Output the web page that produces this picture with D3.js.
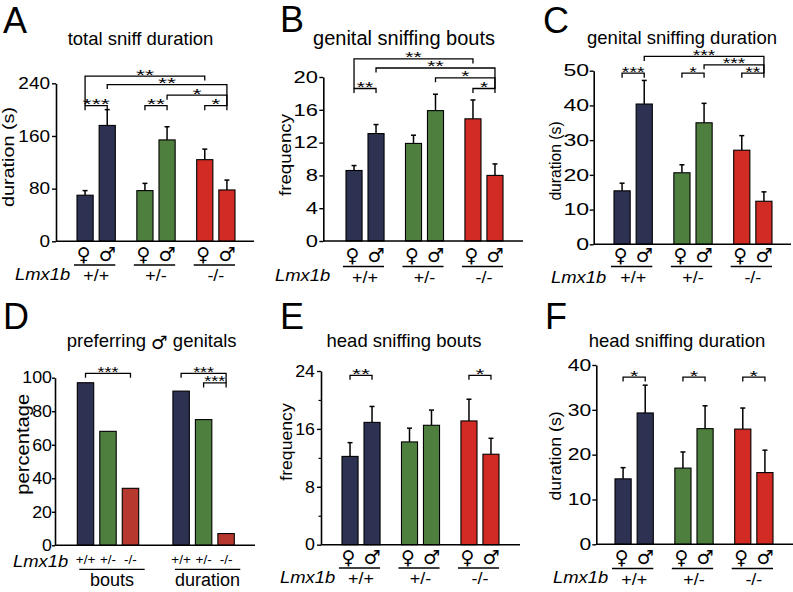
<!DOCTYPE html>
<html><head><meta charset="utf-8">
<script src="https://cdn.jsdelivr.net/npm/d3@7"></script>
<style>html,body{margin:0;padding:0;background:#fff;} svg{display:block;}</style>
</head><body>
<script>
// ---------------- data ----------------
const genotypes = ["+/+", "+/-", "-/-"];
const sexKeys = ["F", "M"];
const sexSymbols = ["\u2640", "\u2642"];
const genotypeColors = ["#2d3152", "#4f7f3f", "#d12b24"];
const preferColors = ["#2d3152", "#4f7f3f", "#b7382f"];

// order of bars: ♀+/+, ♂+/+, ♀+/-, ♂+/-, ♀-/-, ♂-/-
// A: total sniff duration (s)
const totalSniffMean = [70, 176, 77, 154, 124, 78];
const totalSniffSem = [7, 24, 11, 20, 16, 15];
const totalSniffTicks = [0, 80, 160, 240];
const totalSniffSig = [[0,4,251,"**"],[1,5,238,"**"],[3,5,222,"*"],[4,5,206,"*"],[0,1,206,"***"],[2,3,206,"**"]];

// B: genital sniffing bouts (frequency)
const genitalBoutsMean = [8.6, 13.1, 11.9, 15.9, 14.9, 8.0];
const genitalBoutsSem = [0.6, 1.1, 1.0, 2.0, 2.3, 1.4];
const genitalBoutsTicks = [0, 4, 8, 12, 16, 20];
const genitalBoutsSig = [[0,4,22.2,"**"],[1,5,21.1,"**"],[3,5,19.9,"*"],[4,5,18.6,"*"],[0,1,18.6,"**"]];

// C: genital sniffing duration (s)
const genitalDurMean = [15.4, 40.4, 20.6, 35.0, 27.1, 12.4];
const genitalDurSem = [2.2, 6.8, 2.3, 5.6, 4.2, 2.7];
const genitalDurTicks = [0, 10, 20, 30, 40, 50];
const genitalDurSig = [[1,5,54.1,"***"],[3,5,51.7,"***"],[4,5,49.3,"**"],[0,1,49.3,"***"],[2,3,49.3,"*"]];

// D: percentage preferring male genitals
const measures = ["bouts", "duration"];
const preferBouts = [97, 68, 34];
const preferDuration = [92, 75, 7];
const preferTicks = [0, 20, 40, 60, 80, 100];
const preferSigBouts = [[0,2,102.6,"***"]];
const preferSigDuration = [[0,2,102.6,"***"],[1,2,96.9,"***"]];

// E: head sniffing bouts (frequency)
const headBoutsMean = [12.2, 16.9, 14.2, 16.5, 17.1, 12.5];
const headBoutsSem = [1.9, 2.2, 1.9, 2.1, 3.0, 2.2];
const headBoutsTicks = [0, 8, 16, 24];
const headBoutsMinorTicks = [4, 12, 20];
const headBoutsSig = [[0,1,23.4,"**"],[4,5,23.4,"*"]];

// F: head sniffing duration (s)
const headDurMean = [14.6, 29.3, 17.0, 25.8, 25.7, 16.0];
const headDurSem = [2.5, 6.2, 3.6, 5.1, 4.7, 5.0];
const headDurTicks = [0, 10, 20, 30, 40];
const headDurSig = [[0,1,37.3,"*"],[2,3,37.3,"*"],[4,5,37.3,"*"]];

// ---------------- drawing ----------------
const FONT = "'Liberation Sans', Arial, Helvetica, sans-serif";
const SYMF = "'DejaVu Sans', sans-serif";
const svg = d3.select("body").append("svg").attr("width", 793).attr("height", 592);
svg.append("rect").attr("width", 793).attr("height", 592).attr("fill", "#fff");

function txt(parent, x, y, s, o = {}) {
  const t = parent.append("text")
    .attr("transform", `translate(${x},${y})${o.rot ? ` rotate(${o.rot})` : ""} scale(${o.sx || 1},1)`)
    .attr("text-anchor", o.anchor || "middle")
    .attr("font-family", o.family || FONT)
    .attr("font-size", o.size || 16)
    .attr("fill", "#000")
    .text(s);
  if (o.italic) t.attr("font-style", "italic");
  return t;
}

function yAxis(g, y, L, ticks, minor) {
  const ax = d3.axisLeft(y).tickValues(ticks).tickSize(L.tickLen).tickSizeOuter(0).tickPadding(L.tickPad);
  const a = g.append("g").attr("transform", `translate(${L.left},0)`).call(ax);
  a.select(".domain").attr("stroke", "#000").attr("stroke-width", 1.6);
  a.selectAll(".tick line").attr("stroke", "#000").attr("stroke-width", 1.4);
  a.selectAll(".tick text")
    .attr("font-family", FONT).attr("font-size", L.tickFont).attr("fill", "#000")
    .attr("x", -(L.tickLen + L.tickPad) / L.tickSx)
    .attr("transform", `scale(${L.tickSx},1)`);
  if (minor) {
    const m = g.append("g").attr("transform", `translate(${L.left},0)`)
      .call(d3.axisLeft(y).tickValues(minor).tickSize(2.5).tickFormat(""));
    m.select(".domain").remove();
    m.selectAll(".tick line").attr("stroke", "#000").attr("stroke-width", 1.2);
  }
  g.append("line").attr("x1", L.left).attr("x2", L.right).attr("y1", y(0)).attr("y2", y(0))
    .attr("stroke", "#000").attr("stroke-width", 1.6);
}

function sigBrackets(g, sig, xPos, y, sx) {
  sig.forEach(([a, b, lev, lab]) => {
    const yy = y(lev);
    const drop = (idx, side) => {
      let low = yy + 4.5;
      sig.forEach(s => { if (s[side] === idx && s[2] < lev) low = Math.max(low, y(s[2])); });
      return low;
    };
    const x1 = xPos(a), x2 = xPos(b);
    g.append("path")
      .attr("d", `M${x1},${drop(a,0)}V${yy}H${x2}V${drop(b,1)}`)
      .attr("fill", "none").attr("stroke", "#000").attr("stroke-width", 1.3);
    txt(g, (x1 + x2) / 2, yy + 3.5, lab, { size: 15.5, sx });
  });
}

function panelLabels(g, L, title) {
  txt(g, L.letter[1], L.letter[2], L.letter[0], { size: 36, anchor: "start" });
  txt(g, L.title[0], L.title[1], title, { size: L.titleSize || 18.5 });
}

function yLabel(g, L, s) {
  const [cx, cy, size, sx] = L.ylab;
  txt(g, cx + 0.27 * size, cy, s, { size, sx, rot: -90 });
}

function barPanel(L, title, ylab, mean, sem, ticks, sig, minor) {
  const g = svg.append("g");
  const y = d3.scaleLinear().domain([0, ticks[ticks.length - 1]]).range([L.y0, L.yTop]);
  const x0 = d3.scaleBand().domain(genotypes).range([L.barL, L.barR]).paddingInner(0.36).paddingOuter(0);
  const x1 = d3.scaleBand().domain(sexKeys).range([0, x0.bandwidth()]).paddingInner(0.27);
  const rows = mean.map((m, i) => ({ gi: Math.floor(i / 2), si: i % 2, m, e: sem[i] }));
  const bx = r => x0(genotypes[r.gi]) + x1(sexKeys[r.si]);
  const cx = i => bx(rows[i]) + x1.bandwidth() / 2;

  // error bars (upper only)
  const eb = g.append("g").attr("stroke", "#000").attr("stroke-width", 1.5);
  rows.forEach((r, i) => {
    eb.append("line").attr("x1", cx(i)).attr("x2", cx(i)).attr("y1", y(r.m)).attr("y2", y(r.m + r.e));
    eb.append("line").attr("x1", cx(i) - 2.5).attr("x2", cx(i) + 2.5).attr("y1", y(r.m + r.e)).attr("y2", y(r.m + r.e));
  });
  g.selectAll("rect.bar").data(rows).join("rect").attr("class", "bar")
    .attr("x", bx).attr("y", r => y(r.m)).attr("width", x1.bandwidth()).attr("height", r => y(0) - y(r.m))
    .attr("fill", r => genotypeColors[r.gi]).attr("stroke", "#000").attr("stroke-width", 1.1);

  yAxis(g, y, L, ticks, minor);
  sigBrackets(g, sig, cx, y, L.sigSx);
  panelLabels(g, L, title);
  yLabel(g, L, ylab);

  // x labels: sex symbols, underline, genotype, gene name
  rows.forEach((r, i) => {
    txt(g, cx(i) - (r.si === 0 ? 1.5 : 0), L.symBase, sexSymbols[r.si], { size: 19, family: SYMF });
  });
  genotypes.forEach(gt => {
    g.append("line").attr("x1", x0(gt) - 3).attr("x2", x0(gt) + x0.bandwidth()).attr("y1", L.ul).attr("y2", L.ul)
      .attr("stroke", "#000").attr("stroke-width", 1.3);
    txt(g, x0(gt) + x0.bandwidth() / 2, L.genoBase, gt, { size: 16, sx: 1.12 });
  });
  txt(g, L.lmx[0], L.lmx[1], "Lmx1b", { size: 16, sx: 1.15, italic: true, anchor: "start" });
}

const base = { tickLen: 4, tickFont: 16.5 };
barPanel({ ...base, left: 56, right: 254, y0: 241.3, yTop: 83.3, barL: 77, barR: 235, tickPad: 2, tickSx: 1.15, sigSx: 1.5,
  letter: ["A", 3, 33], title: [140.5, 44.5], ylab: [10, 157, 16.5, 1.2],
  symBase: 261, ul: 265, genoBase: 281, lmx: [15, 280] },
  "total sniff duration", "duration (s)", totalSniffMean, totalSniffSem, totalSniffTicks, totalSniffSig);

barPanel({ ...base, left: 323.3, right: 523, y0: 241, yTop: 77, barL: 346, barR: 503, tickPad: 1.3, tickSx: 1.33, sigSx: 1.36,
  letter: ["B", 280, 32], title: [404, 45], titleSize: 20, ylab: [286, 155, 17, 1.1],
  symBase: 262, ul: 266.5, genoBase: 283, lmx: [275, 281] },
  "genital sniffing bouts", "frequency", genitalBoutsMean, genitalBoutsSem, genitalBoutsTicks, genitalBoutsSig);

barPanel({ ...base, left: 593.7, right: 791, y0: 244.3, yTop: 70.7, barL: 614, barR: 772, tickPad: 0.5, tickSx: 1.4, sigSx: 1.25,
  letter: ["C", 543, 33], title: [682, 44], ylab: [557, 161, 16, 0.98],
  symBase: 262, ul: 266.5, genoBase: 283, lmx: [551, 283] },
  "genital sniffing duration", "duration (s)", genitalDurMean, genitalDurSem, genitalDurTicks, genitalDurSig);

barPanel({ ...base, left: 321, right: 520, y0: 544.7, yTop: 371, barL: 342, barR: 499, tickPad: 2, tickSx: 1.08, sigSx: 1.5,
  letter: ["E", 280, 329], title: [404, 346.5], ylab: [287.5, 442, 16.5, 1.07],
  symBase: 564, ul: 568, genoBase: 584, lmx: [280, 583] },
  "head sniffing bouts", "frequency", headBoutsMean, headBoutsSem, headBoutsTicks, headBoutsSig, headBoutsMinorTicks);

barPanel({ ...base, left: 596.3, right: 793, y0: 544.3, yTop: 365, barL: 615, barR: 773, tickPad: 1, tickSx: 1.28, sigSx: 1.4,
  letter: ["F", 545, 329], title: [677, 346.5], ylab: [557, 456, 16.5, 1.07],
  symBase: 564, ul: 568.5, genoBase: 584.5, lmx: [553, 583] },
  "head sniffing duration", "duration (s)", headDurMean, headDurSem, headDurTicks, headDurSig);

// ---------------- panel D ----------------
(function () {
  const L = { left: 55, right: 255, y0: 545.3, yTop: 377.7, tickLen: 3, tickPad: 0, tickFont: 16.5, tickSx: 1.08,
    letter: ["D", 3, 329], ylab: [24.5, 444.3, 18, 1.12] };
  const g = svg.append("g");
  const y = d3.scaleLinear().domain([0, 100]).range([L.y0, L.yTop]);
  const x0 = d3.scaleBand().domain(measures).range([77.3, 234.3]).paddingInner(0.358).paddingOuter(0);
  const x1 = d3.scaleBand().domain(genotypes).range([0, x0.bandwidth()]).paddingInner(0.27);
  const series = { bouts: preferBouts, duration: preferDuration };
  const sigs = { bouts: preferSigBouts, duration: preferSigDuration };
  measures.forEach(ms => {
    const vals = series[ms];
    g.selectAll(null).data(vals).join("rect")
      .attr("x", (v, i) => x0(ms) + x1(genotypes[i])).attr("y", v => y(v))
      .attr("width", x1.bandwidth()).attr("height", v => y(0) - y(v))
      .attr("fill", (v, i) => preferColors[i]).attr("stroke", "#000").attr("stroke-width", 1.1);
    const cx = i => x0(ms) + x1(genotypes[i]) + x1.bandwidth() / 2;
    sigBrackets(g, sigs[ms], cx, y, 1.16);
    genotypes.forEach((gt, i) => txt(g, cx(i), 563.5, gt, { size: 13.5 }));
    const u1 = x0(ms) + 2, u2 = x0(ms) + x0.bandwidth() + 6;
    g.append("line").attr("x1", u1).attr("x2", u2).attr("y1", 569.3).attr("y2", 569.3)
      .attr("stroke", "#000").attr("stroke-width", 1.3);
    txt(g, (u1 + u2) / 2, 585.5, ms, { size: 18 });
  });
  yAxis(g, y, L, preferTicks);
  txt(g, L.letter[1], L.letter[2], L.letter[0], { size: 36, anchor: "start" });
  const t = g.append("text").attr("x", 151.7).attr("y", 347).attr("text-anchor", "middle")
    .attr("font-family", FONT).attr("font-size", 18.5).attr("fill", "#000");
  t.append("tspan").text("preferring ");
  t.append("tspan").attr("font-family", SYMF).attr("font-style", "italic").attr("dy", 2).text("\u2642");
  t.append("tspan").attr("dy", -2).text(" genitals");
  yLabel(g, L, "percentage");
  txt(g, 13, 566.5, "Lmx1b", { size: 16, sx: 1.15, italic: true, anchor: "start" });
})();
</script>
</body></html>
